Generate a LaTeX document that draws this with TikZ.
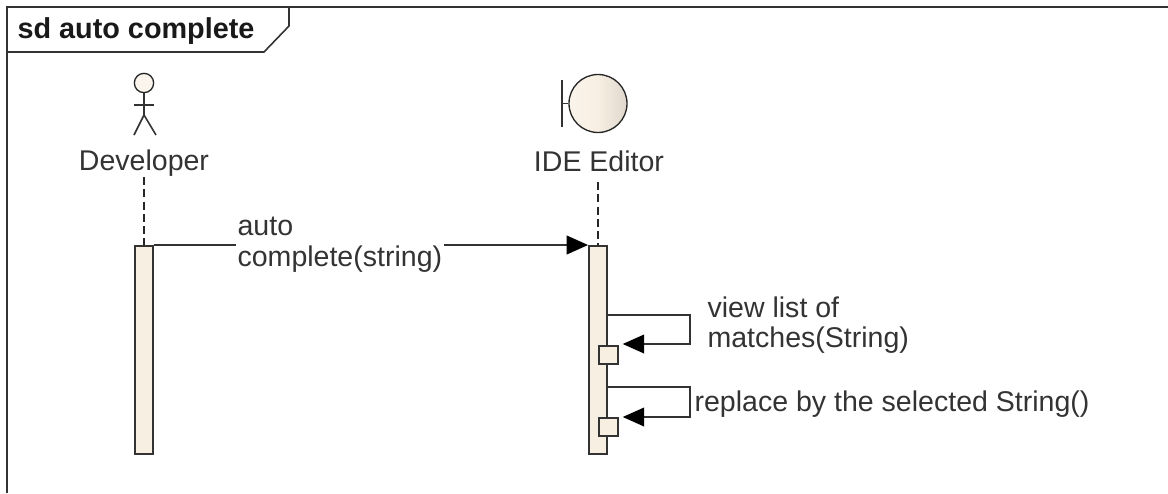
\documentclass[tikz,border=0pt]{standalone}
\usepackage{fontspec}
\setmainfont{Liberation Sans}
\usetikzlibrary{arrows.meta,positioning,calc}
\definecolor{barfill}{HTML}{F8EFE3}
\definecolor{inktext}{HTML}{333333}
\tikzset{
  >={Triangle[length=16pt,width=14pt,color=black]},
  every node/.style = {font=\fontsize{21.4}{23}\selectfont, text=inktext},
  bar/.style = {draw=black!80, line width=1.4pt, fill=barfill, inner sep=0pt, minimum width=13.5pt},
  act/.style = {draw=black!80, line width=1.4pt, fill=barfill, inner sep=0pt, minimum size=14pt},
  life/.style = {draw=black!85, line width=1.2pt, dash pattern=on 6pt off 3.2pt},
  msg/.style = {draw=black!80, line width=1.2pt},
  lbl/.style = {align=left, inner sep=1pt, anchor=west}
}
\begin{document}
\begin{tikzpicture}[x=0.75pt,y=-0.75pt]
\useasboundingbox (0,0) rectangle (1168,493);
% Frame
\coordinate (tl) at (7,7);
\coordinate (tr) at (1168,7);
\coordinate (bl) at (7,493);
\coordinate (tab1) at (7,52);
\coordinate (tab2) at (264,52);
\coordinate (tab3) at (289,26);
\coordinate (tab4) at (289,7);
\draw[msg, line width=1.5pt] (bl) -- (tl) -- (tr);
\draw[msg] (tab1) -- (tab2) -- (tab3) -- (tab4);
\node[lbl, font=\fontsize{21.6}{23}\selectfont\bfseries, text=black!90] (title) at (16,31) {sd auto complete};

% Developer
\node[draw=black!85, line width=1pt, circle, fill=barfill!60, inner sep=0pt, minimum size=14.5pt] (head) at (144,83) {};
\coordinate (hip) at (144,115);
\coordinate (armL) at (134,105);
\coordinate (armR) at (154,105);
\coordinate (footL) at (134,135);
\coordinate (footR) at (156,135);
\draw[msg] (head) -- (hip);
\draw[msg] (armL) -- (armR);
\draw[msg] (footL) -- (hip) -- (footR);
\node (dev) at (144,163) {Developer};
\node[bar, anchor=north, minimum height=156pt] (devbar) at (144,245) {};
\coordinate (devlife) at (144,177);
\draw[life] (devlife) -- (devbar.north);

% IDE Editor
\node[draw=black!85, line width=1pt, circle, inner sep=0pt, minimum size=43.5pt,
  left color=barfill!70, right color=barfill!90!black, middle color=barfill] (ide) at (598,103.5) {};
\coordinate (bndT) at (562,80);
\coordinate (bndB) at (562,127);
\coordinate (bndM) at (562,103.5);
\draw[msg] (bndT) -- (bndB);
\draw[msg] (bndM) -- (ide.west);
\node (idelbl) at (599,161) {IDE Editor};
\node[bar, anchor=north, minimum height=156pt] (idebar) at (598,245) {};
\coordinate (idelife) at (598,182);
\draw[life] (idelife) -- (idebar.north);

% Messages
\node[lbl] (autolbl) at (236,245) {auto\\complete(string)};
\draw[msg] (devbar.north east) -- (autolbl.west |- devbar.north);
\draw[msg,->] (autolbl.east |- devbar.north) -- (idebar.north west);

\node[act] (act1) at (608.5,355) {};
\node[act] (act2) at (608.5,427) {};
\coordinate (s1a) at (606,315);
\coordinate (s1b) at (690,315);
\coordinate (s1c) at (690,344);
\coordinate (s2a) at (606,387);
\coordinate (s2b) at (690,387);
\coordinate (s2c) at (690,417);
\draw[msg,->,shorten >=3pt] (s1a) -- (s1b) -- (s1c) -- (act1.north east |- s1c);
\draw[msg,->,shorten >=3pt] (s2a) -- (s2b) -- (s2c) -- (act2.north east |- s2c);
\node[lbl] (view) at (706,325) {view list of\\matches(String)};
\node[lbl] (repl) at (693,404) {replace by the selected String()};
\end{tikzpicture}
\end{document}
